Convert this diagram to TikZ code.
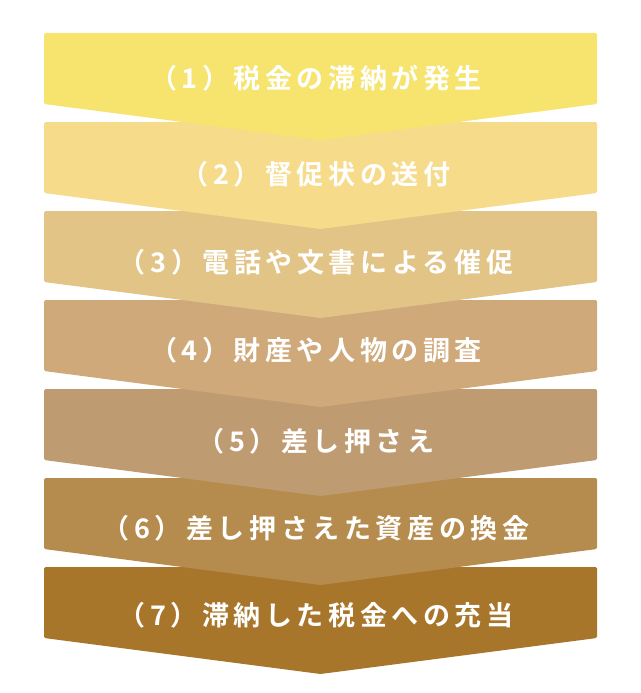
\documentclass[tikz,border=0pt]{standalone}
\usepackage{fontspec}
\usepackage{tikz}
\newfontfamily\jpfont[LetterSpace=17,BoldFont={* Bold}]{Noto Sans CJK JP}
\definecolor{stepA}{HTML}{F6E46E}
\definecolor{stepB}{HTML}{F6DB8A}
\definecolor{stepC}{HTML}{E3C487}
\definecolor{stepD}{HTML}{CFA97A}
\definecolor{stepE}{HTML}{BF9B72}
\definecolor{stepF}{HTML}{B58C4E}
\definecolor{stepG}{HTML}{A8762A}

\begin{document}
\begin{tikzpicture}[x=1pt,y=-1pt,
  band/.style={rounded corners=1.5pt},
  lbl/.style={font=\jpfont\bfseries\fontsize{27}{27}\selectfont,text=white,inner sep=0pt}]
  \useasboundingbox (0,0) rectangle (640,693);
  % chevrons, last one first so each tip lies over the next band
  \fill[band,stepG] (44,567) -- (597,567) -- (597,638) -- (320.5,674) -- (44,638) -- cycle;
  \fill[band,stepF] (44,478) -- (597,478) -- (597,549) -- (320.5,585) -- (44,549) -- cycle;
  \fill[band,stepE] (44,389) -- (597,389) -- (597,460) -- (320.5,496) -- (44,460) -- cycle;
  \fill[band,stepD] (44,300) -- (597,300) -- (597,371) -- (320.5,407) -- (44,371) -- cycle;
  \fill[band,stepC] (44,211) -- (597,211) -- (597,282) -- (320.5,318) -- (44,282) -- cycle;
  \fill[band,stepB] (44,122) -- (597,122) -- (597,193) -- (320.5,229) -- (44,193) -- cycle;
  \fill[band,stepA] (44,33) -- (597,33) -- (597,104) -- (320.5,140) -- (44,104) -- cycle;
  % labels
  \node[lbl] (s1) at (316,78)  {（1）税金の滞納が発生};
  \node[lbl] (s2) at (316,174) {（2）督促状の送付};
  \node[lbl] (s3) at (316,262) {（3）電話や文書による催促};
  \node[lbl] (s4) at (316,350) {（4）財産や人物の調査};
  \node[lbl] (s5) at (316,441) {（5）差し押さえ};
  \node[lbl] (s6) at (316,528) {（6）差し押さえた資産の換金};
  \node[lbl] (s7) at (316,615) {（7）滞納した税金への充当};
\end{tikzpicture}
\end{document}
